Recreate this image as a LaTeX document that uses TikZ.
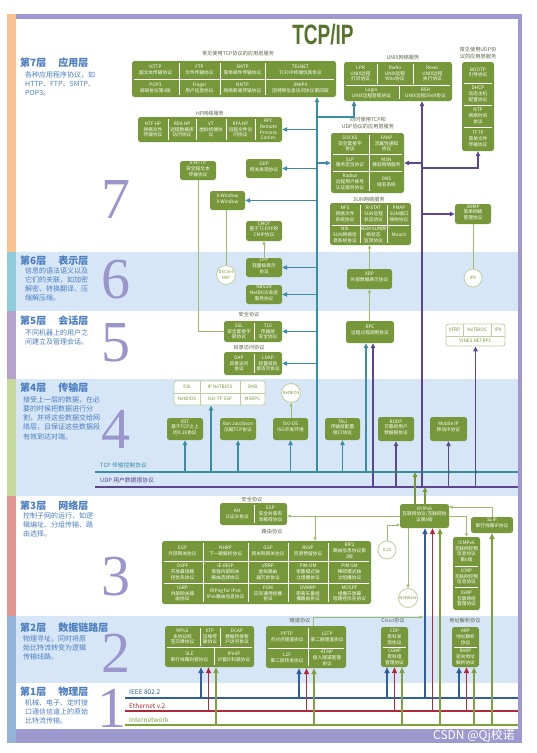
\documentclass[tikz,border=0pt]{standalone}
\usepackage{fontspec}
\usepackage{graphicx}
\setmainfont{Noto Sans CJK SC}
\newfontfamily\numfont{Liberation Serif}
\newfontfamily\logofont{Liberation Sans}
\usetikzlibrary{arrows.meta,fit}
\definecolor{boxgreen}{HTML}{77983A}
\definecolor{logogreen}{HTML}{56732B}
\definecolor{grpgray}{HTML}{5B6548}
\definecolor{palegreen}{HTML}{BDD19C}
\definecolor{linkgreen}{HTML}{9DBB6E}
\definecolor{tcpteal}{HTML}{3A8DA2}
\definecolor{tcpdot}{HTML}{2C7486}
\definecolor{udppurple}{HTML}{5C4690}
\definecolor{framepurple}{HTML}{9D98CD}
\definecolor{numpurple}{HTML}{9A95CB}
\definecolor{titleblue}{HTML}{4C7EC0}
\definecolor{bandblue}{HTML}{D6E6F7}
\definecolor{ieeeblue}{HTML}{2F5E9E}
\definecolor{etherred}{HTML}{AE2A3B}
\definecolor{netgreen}{HTML}{7BA23B}
\definecolor{stripseven}{HTML}{F9C291}
\definecolor{stripsix}{HTML}{8ECDD9}
\definecolor{stripfive}{HTML}{B6A3CC}
\definecolor{stripfour}{HTML}{C7DA9D}
\definecolor{stripthree}{HTML}{E1968F}
\definecolor{striptwo}{HTML}{95B4DA}
\newcommand{\cellfont}{\fontsize{4.7}{5.8}\selectfont}

\begin{document}
\begin{tikzpicture}[x=1pt,y=-1pt,
  gbox/.style={fill=boxgreen,rounded corners=2.5pt,inner sep=0pt},
  obox/.style={draw=palegreen,fill=white,line width=0.8pt,rounded corners=2.5pt,inner sep=0pt},
  cell/.style={text=white,align=center,inner sep=0pt,font=\cellfont},
  ocell/.style={cell,text=boxgreen},
  ring/.style={circle,draw=palegreen,fill=white,line width=0.8pt,minimum size=19pt,inner sep=0pt,
    text=boxgreen,align=center,font=\fontsize{4.3}{5.2}\selectfont},
  sep/.style={draw=white,line width=0.45pt},
  osep/.style={draw=palegreen,line width=0.5pt},
  grp/.style={text=grpgray,align=center,inner sep=0pt,font=\fontsize{5.2}{7}\selectfont},
  ltitle/.style={anchor=west,inner sep=0pt,text=titleblue,font=\fontsize{10}{12}\selectfont\bfseries},
  ltext/.style={anchor=north west,align=left,inner sep=0pt,text=titleblue,font=\fontsize{7}{9.1}\selectfont},
  bignum/.style={inner sep=0pt,text=numpurple,font=\numfont\fontsize{58}{58}\selectfont},
  tcpv/.style={draw=tcpteal,line width=1.3pt,-{Triangle[length=5pt,width=4.5pt]}},
  udpv/.style={draw=udppurple,line width=1.3pt,-{Triangle[length=5pt,width=4.5pt]}},
  linkv/.style={draw=linkgreen,line width=0.7pt,-{Triangle[length=3.5pt,width=3pt]}},
  link/.style={draw=linkgreen,line width=0.7pt},
  ipup/.style={draw=boxgreen,line width=1.3pt,-{Triangle[length=5pt,width=4.5pt]}},
  feedb/.style={draw=ieeeblue,line width=1.6pt,-{Triangle[length=6pt,width=5pt]}},
  feedr/.style={feedb,draw=etherred},
  feedg/.style={feedb,draw=netgreen},
]
\useasboundingbox (0,0) rectangle (536,753);
\fill[white] (0,0) rectangle (536,753);
% Layer bands
\fill[bandblue] (16,252) rectangle (518,311);
\fill[bandblue] (16,379) rectangle (518,496);
\fill[bandblue] (16,616) rectangle (518,683);
% Layer strip
\fill[stripseven] (7,14) rectangle (16,252);
\fill[stripsix] (7,252) rectangle (16,311);
\fill[stripfive] (7,311) rectangle (16,379);
\fill[stripfour] (7,379) rectangle (16,496);
\fill[stripthree] (7,496) rectangle (16,616);
\fill[striptwo] (7,616) rectangle (16,743);

% Big numbers
\foreach \n/\x/\y in {7/116/200,6/116/280,5/116/343,4/116/429,3/116/577,2/116/653,1/112/708}
  \node[bignum] (num\n) at (\x,\y) {\n};

% Layer titles
\node[ltitle] (title7) at (20,63) {第7层\hspace{12pt}应用层};
\node[ltext] (text7) at (25,71.5) {各种应用程序协议，如\\HTTP、FTP、SMTP、\\POP3。};
\node[ltitle] (title6) at (20,261) {第6层\hspace{12pt}表示层};
\node[ltext] (text6) at (25,267.5) {信息的语法语义以及\\它们的关联，如加密\\解密、转换翻译、压\\缩解压缩。};
\node[ltitle] (title5) at (20,321) {第5层\hspace{12pt}会话层};
\node[ltext] (text5) at (25,329.5) {不同机器上的用户之\\间建立及管理会话。};
\node[ltitle] (title4) at (20,388) {第4层\hspace{12pt}传输层};
\node[ltext] (text4) at (23,396.5) {接受上一层的数据，在必\\要的时候把数据进行分\\割，并将这些数据交给网\\络层，且保证这些数据段\\有效到达对端。};
\node[ltitle] (title3) at (20,506) {第3层\hspace{12pt}网络层};
\node[ltext] (text3) at (23,512.5) {控制子网的运行，如逻\\辑编址、分组传输、路\\由选择。};
\node[ltitle] (title2) at (20,628) {第2层\hspace{12pt}数据链路层};
\node[ltext] (text2) at (23,635.5) {物理寻址，同时将原\\始比特流转变为逻辑\\传输线路。};
\node[ltitle] (title1) at (20,692) {第1层\hspace{12pt}物理层};
\node[ltext] (text1) at (25,699.5) {机械、电子、定时接\\口通信信道上的原始\\比特流传输。};

% Logo
\node[inner sep=0pt,text=logogreen,font=\logofont\bfseries\fontsize{28}{28}\selectfont] (logo) at (323,35) {\scalebox{0.68}[1]{TCP/IP}};

% Layer 7: TCP services
\node[grp] (tcplabel) at (238,54) {常见使用TCP协议的应用层服务};
\node[gbox,fit={(132,61) (336,97)}] (tcpapp) {};
\draw[sep] (134,79) -- (334,79);
\foreach \x in {179,220,265} \draw[sep] (\x,63) -- (\x,95);
\node[cell] (http) at (155.5,70) {HTTP\\超文本传输协议};
\node[cell] (ftp) at (199.5,70) {FTP\\文件传输协议};
\node[cell] (smtp) at (242.5,70) {SMTP\\简单邮件传输协议};
\node[cell] (telnet) at (300.5,70) {TELNET\\TCP/IP终端仿真协议};
\node[cell] (pop3) at (155.5,88) {POP3\\邮局协议第3版};
\node[cell] (finger) at (199.5,88) {Finger\\用户信息协议};
\node[cell] (nntp) at (242.5,88) {NNTP\\网络新闻传输协议};
\node[cell] (imap) at (300.5,88) {IMAP4\\因特网信息访问协议第四版};

% UNIX services
\node[grp] (unixlabel) at (403,57) {UNIX网络服务};
\node[gbox,fit={(344,62) (452,101)}] (unix) {};
\draw[sep] (346,85) -- (450,85);
\draw[sep] (377,64) -- (377,84);
\draw[sep] (413,64) -- (413,84);
\draw[sep] (399,86) -- (399,99);
\node[cell] (lpr) at (360.5,73.5) {LPR\\UNIX远程\\打印协议};
\node[cell] (rwho) at (395,73.5) {Rwho\\UNIX远程\\Who协议};
\node[cell] (rexec) at (432.5,73.5) {Rexec\\UNIX远程\\执行协议};
\node[cell] (login) at (371.5,93) {Login\\UNIX远程登陆协议};
\node[cell] (rsh) at (425.5,93) {RSH\\UNIX远程Shell协议};

% UDP services
\node[grp] (udplabel) at (478,53.5) {常见使用UDP协\\议的应用层服务};
\node[gbox,fit={(462,62) (494,151)}] (udpapp) {};
\foreach \y in {83,105,127} \draw[sep] (464,\y) -- (492,\y);
\node[cell] (bootp) at (478,72.5) {BOOTP\\引导协议};
\node[cell] (dhcp) at (478,94) {DHCP\\动态主机\\配置协议};
\node[cell] (ntp) at (478,116) {NTP\\网络时间\\协议};
\node[cell] (tftp) at (478,139) {TFTP\\简单文件\\传输协议};

% HP services
\node[grp] (hplabel) at (210,113) {HP网络服务};
\node[gbox,fit={(138,117) (282,142)}] (hp) {};
\foreach \x in {168,196,226,255} \draw[sep] (\x,119) -- (\x,140);
\node[cell] (ntfhp) at (153,129.5) {NTF HP\\网络文件\\传输协议};
\node[cell] (rdahp) at (182,129.5) {RDA HP\\远程数据库\\访问协议};
\node[cell] (vt) at (211,129.5) {VT\\虚拟终端协\\议};
\node[cell] (rfahp) at (240.5,129.5) {RFA HP\\远程文件访\\问协议};
\node[cell] (hprpc) at (268.5,129.5) {RPC\\Remote\\Process\\Comm.};

\node[gbox,cell,fit={(180,161) (216,180)}] (shttp) {S-HTTP\\安全超文本\\传输协议};
\node[gbox,cell,fit={(246,159) (282,178)}] (gdp) {GDP\\网关发现协议};

% TCP and UDP services
\node[grp] (bothlabel) at (368,123) {同时使用TCP和\\UDP协议的应用层服务};
\node[gbox,fit={(331,133) (404,193)}] (tcpudp) {};
\draw[sep] (369,135) -- (369,191);
\draw[sep] (333,154) -- (402,154);
\draw[sep] (333,171) -- (402,171);
\node[cell] (socks) at (350,143.5) {SOCKS\\安全套接字\\协议};
\node[cell] (fanp) at (386.5,143.5) {FANP\\流属性通知\\协议};
\node[cell] (slp) at (350,162.5) {SLP\\服务定位协议};
\node[cell] (msn) at (386.5,162.5) {MSN\\微软网络服务};
\node[cell] (radius) at (350,182) {Radius\\远程用户拨号\\认证服务协议};
\node[cell] (dns) at (386.5,182) {DNS\\域名系统};

% SUN services
\node[grp] (sunlabel) at (369,199) {SUN网络服务};
\node[gbox,fit={(330,203) (411,245)}] (sun) {};
\draw[sep] (332,225) -- (409,225);
\foreach \x in {360,387} \draw[sep] (\x,205) -- (\x,243);
\node[cell] (nfs) at (345,214) {NFS\\网络文件\\系统协议};
\node[cell] (rstat) at (373.5,214) {R-STAT\\SUN远程\\状态协议};
\node[cell] (pmap) at (399,214) {PMAP\\SUN端口\\映射协议};
\node[cell] (nis) at (345,235) {NIS\\SUN网络信\\息系统协议};
\node[cell] (nsm) at (373.5,235) {NSM SUN网\\络状态\\监测协议};
\node[cell] (mount) at (399,235) {Mount};

\node[gbox,cell,fit={(210,191) (245,210)}] (xwin) {X-Window\\X-Window};
\node[gbox,cell,fit={(246,221) (282,241)}] (cmot) {CMOT\\基于TCP/IP的\\CMIP协议};
\node[gbox,cell,fit={(455,204) (491,224)}] (snmp) {SNMP\\简单网络\\管理协议};

% Layer 6
\node[gbox,cell,fit={(246,258) (282,277)}] (lpp) {LPP\\轻量级表示\\协议};
\node[gbox,cell,fit={(246,285) (282,304)}] (nbssn) {NBSSN\\NetBIOS会话\\服务协议};
\node[ring] (decnet) at (226,275) {DECnet\\NSP};
\node[gbox,cell,fit={(347,269) (392,289)}] (xdp) {XDP\\外部数据表示协议};
\node[ring,minimum size=18pt] (ipx) at (473,278) {IPX};

% Layer 5
\node[grp] (seclabel) at (249,315) {安全协议};
\node[gbox,fit={(224,321) (282,342)}] (ssl) {};
\draw[sep] (254,323) -- (254,340);
\node[cell] (ssltext) at (239,331.5) {SSL\\安全套接字\\层协议};
\node[cell] (tls) at (268,331.5) {TLS\\传输层\\安全协议};
\node[grp] (dirlabel) at (249,348) {目录访问协议};
\node[gbox,fit={(224,352) (282,375)}] (dap) {};
\draw[sep] (254,354) -- (254,373);
\node[cell] (daptext) at (239,363.5) {DAP\\目录访问\\协议};
\node[cell] (ldap) at (268,363.5) {LDAP\\轻量级目\\录访问协议};
\node[gbox,cell,fit={(346,321) (394,343)}] (rpc) {RPC\\远程过程调用协议};
\node[obox,fit={(446,324) (505,346)}] (vines) {};
\draw[osep] (446,336) -- (505,336);
\draw[osep] (463,324) -- (463,336);
\draw[osep] (491,324) -- (491,336);
\node[ocell] (vfrp) at (454.5,330) {VFRP};
\node[ocell] (vnetbios) at (477,330) {NeTBIOS};
\node[ocell] (vipx) at (498,330) {IPX};
\node[ocell] (netrpc) at (475.5,341) {VINES NETRPC};

% Layer 4
\node[obox,fit={(174,381) (265,405)}] (nbgroup) {};
\draw[osep] (174,393) -- (265,393);
\foreach \x in {200,240} \draw[osep] (\x,381) -- (\x,405);
\node[ocell] (dsi) at (187,387) {DSI};
\node[ocell] (ipnb) at (220,387) {IP NeTBIOS};
\node[ocell] (smb) at (252.5,387) {SMB};
\node[ocell] (gnetbios) at (187,399) {NetBIOS};
\node[ocell] (isotp) at (220,399) {ISO-TP SSP};
\node[ocell] (msrpc) at (252.5,399) {MSRPC};
\node[ring] (netbios) at (291,393) {NetBIOS};
\node[gbox,cell,fit={(167,418) (203,440)}] (xdt) {XDT\\基于TCP之上\\的X.25协议};
\node[gbox,cell,fit={(220,418) (256,440)}] (vj) {Van Jacobson\\压缩TCP协议};
\node[gbox,cell,fit={(273,418) (308,440)}] (isode) {ISO-DE\\ISO开发环境};
\node[gbox,cell,fit={(325,418) (360,440)}] (tali) {TALI\\传输层配置\\接口协议};
\node[gbox,cell,fit={(378,417) (414,441)}] (rudp) {RUDP\\可靠的用户\\数据报协议};
\node[gbox,cell,fit={(430,417) (467,441)}] (mobip) {Mobile IP\\移动IP协议};

% TCP / UDP lines
\coordinate (tcpL) at (95,472);
\coordinate (tcpR) at (518,472);
\coordinate (udpL) at (95,487);
\coordinate (udpR) at (518,487);
\node[anchor=west,inner sep=0pt,text=tcpteal,font=\fontsize{5.8}{7}\selectfont] (tcplab) at (100,465.5) {TCP 传输控制协议};
\node[anchor=west,inner sep=0pt,text=udppurple,font=\fontsize{5.8}{7}\selectfont] (udplab) at (100,480.5) {UDP 用户数据报协议};

% Layer 3
\node[grp] (sec3label) at (252,499.5) {安全协议};
\node[gbox,fit={(220,503) (287,525)}] (ahesp) {};
\draw[sep] (254,505) -- (254,523);
\node[cell] (ah) at (237,514) {AH\\认证头协议};
\node[cell] (esp) at (270.5,514) {ESP\\安全封装有\\效载荷协议};
\node[grp] (routelabel) at (272,532) {路由协议};
\node[gbox,fit={(162,541) (371,604)}] (routing) {};
\foreach \y in {561,583} \draw[sep] (164,\y) -- (369,\y);
\foreach \x in {203,248,288,328} \draw[sep] (\x,543) -- (\x,602);
\node[cell] (egp) at (182.5,551) {EGP\\外部网关协议};
\node[cell] (nhrp) at (225.5,551) {NHRP\\下一跳解析协议};
\node[cell] (ggp) at (268,551) {GGP\\网关到网关协议};
\node[cell] (rsvp) at (308,551) {RSVP\\资源预留协议};
\node[cell] (rip2) at (349.5,551) {RIP2\\路由信息协议第\\2版};
\node[cell] (ospf) at (182.5,572) {OSPF\\开放最短路\\径优先协议};
\node[cell] (eigrp) at (225.5,572) {IE-IRGP\\增强内部网关\\路由选择协议};
\node[cell] (vrrp) at (268,572) {VRRP\\虚拟路由\\器冗余协议};
\node[cell] (pimdm) at (308,572) {PIM-DM\\密集模式独\\立组播协议};
\node[cell] (pimsm) at (349.5,572) {PIM-SM\\稀疏模式独\\立组播协议};
\node[cell] (igrp) at (182.5,593.5) {IGRP\\内部网关路\\由协议};
\node[cell] (ripng) at (225.5,593.5) {RIPng for IPv6\\IPv6路由信息协议};
\node[cell] (pgm) at (268,593.5) {PGM\\实际通用组播\\协议};
\node[cell] (dvmrp) at (308,593.5) {DVMRP\\距离矢量组\\播路由协议};
\node[cell] (mospf) at (349.5,593.5) {MOSPF\\组播开放最\\短路径优先协议};

\node[ring,minimum size=18pt] (x25) at (387,550) {X.25};
\node[gbox,cell,fit={(400,504) (449,528)}] (ipbox) {IP/IPv6\\互联网协议/互联网协\\议第6版};
\node[gbox,cell,fit={(471,517) (513,533)}] (slip) {SLIP\\串行线路IP协议};
\node[gbox,fit={(453,537) (480,610)}] (icmp) {};
\draw[sep] (455,566) -- (478,566);
\draw[sep] (455,587) -- (478,587);
\node[cell] (icmpv6) at (466.5,551.5) {ICMPv6\\互联网控制\\信息协议\\第6版};
\node[cell] (icmpv4) at (466.5,576.5) {ICMP\\互联网控制\\信息协议};
\node[cell] (igmp) at (466.5,598.5) {IGMP\\互联网组\\管理协议};
\node[ring] (netware) at (408,598) {NetWare};

% Layer 2
\node[grp] (tunlabel) at (300,621) {隧道协议};
\node[grp] (ciscolabel) at (393,621) {Cisco协议};
\node[grp] (arplabel) at (465,621) {地址解析协议};
\node[gbox,fit={(165,626) (254,667)}] (mpls) {};
\draw[sep] (167,647) -- (252,647);
\draw[sep] (200,628) -- (200,646);
\draw[sep] (220,628) -- (220,646);
\draw[sep] (214,648) -- (214,665);
\node[cell] (mplstext) at (182.5,636.5) {MPLS\\多协议标\\签交换协议};
\node[cell] (xtp) at (210,636.5) {XTP\\压缩传\\输协议};
\node[cell] (dcap) at (237,636.5) {DCAP\\数据转接客\\户访问协议};
\node[cell] (sle) at (189.5,657) {SLE\\串行线路封装协议};
\node[cell] (ipinip) at (234,657) {IPinIP\\IP套IP封装协议};
\node[gbox,fit={(266,626) (346,668)}] (tunnel) {};
\draw[sep] (268,648) -- (344,648);
\draw[sep] (308,628) -- (308,666);
\node[cell] (pptp) at (287,637) {PPTP\\点对点隧道协议};
\node[cell] (l2tp) at (327,637) {L2TP\\第二层隧道协议};
\node[cell] (l2f) at (287,658) {L2F\\第二层转发协议};
\node[cell] (atmp) at (327,658) {ATMP\\接入隧道管理\\协议};
\node[gbox,fit={(381,627) (408,667)}] (cisco) {};
\draw[sep] (383,647) -- (406,647);
\node[cell] (cdp) at (394.5,637) {CDP\\思科发\\现协议};
\node[cell] (cgmp) at (394.5,657) {CGMP\\思科组\\管理协议};
\node[gbox,fit={(452,627) (479,667)}] (arp) {};
\draw[sep] (454,647) -- (477,647);
\node[cell] (arptext) at (465.5,637) {ARP\\地址解析\\协议};
\node[cell] (rarp) at (465.5,657) {RARP\\逆向地址\\解析协议};

% Layer 1 lines
\coordinate (ieeeL) at (125,698);
\coordinate (ieeeR) at (518,698);
\coordinate (etherL) at (125,711);
\coordinate (etherR) at (518,711);
\coordinate (inetL) at (125,725);
\coordinate (inetR) at (518,725);
\node[anchor=west,inner sep=0pt,text=ieeeblue,font=\fontsize{6.5}{7}\selectfont] (ieeelab) at (129,692) {IEEE 802.2};
\node[anchor=west,inner sep=0pt,text=etherred,font=\fontsize{6.5}{7}\selectfont] (etherlab) at (129,705.5) {Ethernet v.2};
\node[anchor=west,inner sep=0pt,text=netgreen,font=\fontsize{6.5}{7}\selectfont] (inetlab) at (129,719.5) {Internetwork};
\draw[ieeeblue,line width=2.6pt] (ieeeL) -- (ieeeR);
\draw[etherred,line width=2.6pt] (etherL) -- (etherR);
\draw[netgreen,line width=2.6pt] (inetL) -- (inetR);

% TCP trunk
\draw[tcpteal,line width=2.6pt] (tcpL) -- (tcpR);
\coordinate (tcpT) at (317,472);
\coordinate (unixtap) at (317,117);
\coordinate (unixin) at (354,101);
\draw[tcpv] (tcpT) -- (tcpT |- tcpapp.south);
\draw[tcpv] (unixtap) -| (unixin);
\foreach \b in {hp,gdp,xwin,lpp,nbssn,ssl,dap}
  \draw[tcpv] (tcpT |- \b.east) -- (\b.east);
\draw[tcpv] (tcpT |- tcpudp.west) -- (tcpudp.west);
\foreach \b in {xdt,vj,isode,tali}
  \draw[tcpv] (\b.south |- tcpL) -- (\b.south);
\coordinate (dsitap) at (211,472);
\draw[tcpv] (dsitap) -- (dsitap |- nbgroup.south);
\coordinate (rpct) at (366,472);
\draw[tcpv] (rpct) -- (rpct |- rpc.south);

% UDP trunk
\draw[udppurple,line width=2.6pt] (udpL) -- (udpR);
\coordinate (udpT) at (422,487);
\coordinate (bootptap) at (422,168);
\draw[udpv] (udpT) -- (udpT |- unix.south);
\draw[udpv] (udpT |- tcpudp.east) -- (tcpudp.east);
\draw[udpv] (bootptap) -| (udpapp.south);
\draw[udpv] (udpT |- snmp.west) -- (snmp.west);
\coordinate (rpcu) at (373,487);
\draw[udpv] (rpcu) -- (rpcu |- rpc.south);
\foreach \b in {rudp,mobip,vines}
  \draw[udpv] (\b.south |- udpL) -- (\b.south);
\foreach \x in {373,396,422,449,476}
  \fill[tcpdot] (\x,472) circle (1.6);

% Thin links
\draw[link] (shttp.south) |- (ssl.west);
\draw[link] (decnet.north |- xwin.south) -- (decnet.north);
\draw[linkv] (lpp.north) -- (cmot.south);
\draw[linkv] (xdp.south |- rpc.north) -- (xdp.south);
\draw[linkv] (xdp.north) -- (xdp.north |- sun.south);
\draw[link] (snmp.south) -- (ipx.north);
\draw[linkv] (netbios.south |- isode.north) -- (netbios.south);

% IP links
\coordinate (iptcp) at (415,472);
\coordinate (ipudp) at (425,487);
\draw[ipup] (iptcp |- ipbox.north) -- (iptcp);
\draw[ipup] (ipudp |- ipbox.north) -- (ipudp);
\coordinate (esptap) at (315,516);
\draw[linkv] (ipbox.west) -- (ahesp.east |- ipbox.west);
\draw[linkv] (esptap) -- (esptap |- routing.north);
\coordinate (ipx25) at (400,525);
\draw[linkv] (x25.north) |- (ipx25);
\coordinate (slipin) at (449,507);
\draw[linkv] (slip.north) |- (slipin);
\draw[linkv] (ipbox.east) -| (icmp.north);
\draw[linkv] (netware.north |- ipbox.south) -- (netware.north);
\coordinate (tunup) at (313,617);
\coordinate (ipfeed) at (423,617);
\draw[linkv] (tunnel.north -| tunup) |- (ipfeed);

% Physical feeds
\foreach \b/\x in {mpls/201,tunnel/299,cisco/387,arp/459,ipbox/425} {
  \coordinate (bt-\b) at (\x,698);
  \coordinate (rt-\b) at ({\x+7.5},711);
  \coordinate (gt-\b) at ({\x+15},725);
  \draw[feedb] (bt-\b) -- (bt-\b |- \b.south);
  \draw[feedr] (rt-\b) -- (rt-\b |- \b.south);
  \draw[feedg] (gt-\b) -- (gt-\b |- \b.south);
}
\coordinate (gt-slip) at (492,725);
\draw[feedg] (gt-slip) -- (gt-slip |- slip.south);

% Frame
\fill[framepurple] (16,14) rectangle (522,19);
\fill[framepurple] (518,14) rectangle (522,743);
\fill[framepurple] (16,729) rectangle (522,743);
\node[inner sep=0pt,text=white,font=\fontsize{12}{12}\selectfont] (csdn) at (474,736) {CSDN @Qj校诺};
\end{tikzpicture}
\end{document}
